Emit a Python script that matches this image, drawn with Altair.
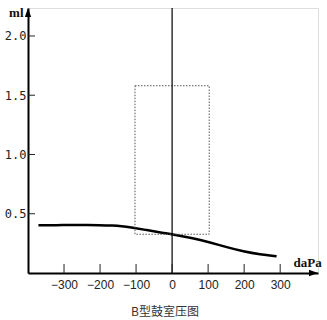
import altair as alt
import pandas as pd

# axis extents (data units)
X_DOMAIN = [-400, 405]
Y_DOMAIN = [0, 2.236]
X_TICKS = [-300, -200, -100, 0, 100, 200, 300]
Y_TICKS = [0.5, 1.0, 1.5, 2.0]

# tympanogram curve (type B, flat)
CURVE_X = [-371, -300, -256, -200, -164, -140, -117, -70, -25, 0, 59, 105, 152, 198, 244, 290]
CURVE_Y = [0.403, 0.404, 0.405, 0.404, 0.401, 0.395, 0.386, 0.362, 0.338, 0.327, 0.293, 0.259, 0.217, 0.182, 0.157, 0.141]

# dotted reference box
BOX_X = [-103, 103]
BOX_Y = [0.327, 1.58]

xs = alt.Scale(domain=X_DOMAIN, nice=False, zero=False)
ys = alt.Scale(domain=Y_DOMAIN, nice=False, zero=False)

curve_df = pd.DataFrame({"x": CURVE_X, "y": CURVE_Y})
box_df = pd.DataFrame({"x": [BOX_X[0]], "x2": [BOX_X[1]], "y": [BOX_Y[0]], "y2": [BOX_Y[1]]})
zero_df = pd.DataFrame({"x": [0], "y": [Y_DOMAIN[0]], "y2": [Y_DOMAIN[1]]})
xt_df = pd.DataFrame({"x": X_TICKS})
yt_df = pd.DataFrame({"y": Y_TICKS})
yarrow_df = pd.DataFrame({"x": [X_DOMAIN[0]], "y": [Y_DOMAIN[1]]})
xarrow_df = pd.DataFrame({"x": [X_DOMAIN[1]], "y": [Y_DOMAIN[0]]})

x_axis = alt.Axis(
    values=X_TICKS, format="d", ticks=False, tickSize=0, grid=False,
    domain=True, domainColor="black", domainWidth=2,
    labelFont="Liberation Sans", labelFontSize=12, labelColor="#222",
    labelPadding=6, labelFlush=False, labelOverlap=False,
    title="daPa", titleFont="Liberation Serif", titleFontSize=13, titleFontWeight="bold",
    titleColor="#111", titleX=265, titleY=-7, titleAlign="left", titleBaseline="alphabetic",
)
y_axis = alt.Axis(
    values=Y_TICKS, format=".1f", ticks=False, tickSize=0, grid=False,
    domain=True, domainColor="black", domainWidth=2,
    labelFont="DejaVu Sans Mono", labelFontSize=12, labelColor="#222",
    labelPadding=2, labelFlush=False, labelOverlap=False,
    title="ml", titleFont="Liberation Serif", titleFontSize=13, titleFontWeight="bold",
    titleColor="#111", titleAngle=0, titleX=-5, titleY=8, titleAlign="right",
    titleBaseline="alphabetic",
)

X = lambda f="x:Q": alt.X(f, scale=xs, axis=x_axis)
Y = lambda f="y:Q": alt.Y(f, scale=ys, axis=y_axis)

curve = alt.Chart(curve_df).mark_line(
    color="black", strokeWidth=2.5, interpolate="basis"
).encode(x=X(), y=Y())

box = alt.Chart(box_df).mark_rect(
    fill=None, fillOpacity=0, stroke="#555", strokeWidth=1, strokeDash=[1.5, 1.5]
).encode(x=X(), x2="x2:Q", y=Y(), y2="y2:Q")

zero = alt.Chart(zero_df).mark_rule(color="black", strokeWidth=1.2).encode(
    x=X(), y=Y(), y2="y2:Q"
)

xticks = alt.Chart(xt_df).mark_rule(color="#222", strokeWidth=1).encode(
    x=X(), y=alt.value(256), y2=alt.value(265)
)

yticks = alt.Chart(yt_df).mark_rule(color="#222", strokeWidth=1).encode(
    y=Y(), x=alt.value(0), x2=alt.value(7)
)

yarrow = alt.Chart(yarrow_df).mark_point(
    shape="M0,0 L-0.35,1 L0.35,1 Z", size=324, filled=True, color="black", opacity=1
).encode(x=X(), y=Y())

xarrow = alt.Chart(xarrow_df).mark_point(
    shape="M0,0 L-1,-0.35 L-1,0.35 Z", size=324, filled=True, color="black", opacity=1
).encode(x=X(), y=Y())

chart = alt.layer(curve, box, zero, xticks, yticks, yarrow, xarrow).properties(
    width=290,
    height=265,
    autosize=alt.AutoSizeParams(type="none"),
    padding={"left": 28, "top": 8, "right": 9, "bottom": 47},
    title=alt.TitleParams(
        "B型鼓室压图", orient="bottom", anchor="middle",
        font="Noto Sans CJK SC", fontSize=12, fontWeight="normal",
        color="#333", offset=17, dx=-8,
    ),
).configure_view(stroke=None).configure(background="white")

chart.save("out.html", embed_options={"renderer": "svg", "actions": False})
